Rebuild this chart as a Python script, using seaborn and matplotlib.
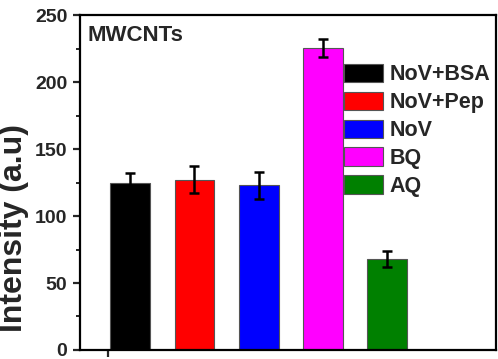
import matplotlib
matplotlib.use("Agg")
import matplotlib.pyplot as plt
import seaborn as sns
import pandas as pd
import numpy as np

samples = ["NoV+BSA", "NoV+Pep", "NoV", "BQ", "AQ"]
intensity = [124.5, 127.0, 123.0, 225.5, 68.0]
error = [7.5, 10.0, 10.0, 6.5, 6.0]
colors = ["#000000", "#ff0000", "#0000ff", "#ff00ff", "#008000"]
yticks = [0, 50, 100, 150, 200, 250]

sns.set_theme(style="white")
plt.rcParams["font.family"] = ["Liberation Sans", "DejaVu Sans"]
plt.rcParams["font.weight"] = "bold"

df = pd.DataFrame({"sample": samples, "intensity": intensity})

fig = plt.figure(figsize=(4.98, 3.59), dpi=100)
ax = fig.add_axes([0.1606, 0.0251, 0.9960 - 0.1606, 0.958 - 0.0251])

sns.barplot(data=df, x="sample", y="intensity", hue="sample",
            palette=colors, order=samples, hue_order=samples,
            width=0.62, errorbar=None, edgecolor="#555555", linewidth=0.8,
            saturation=1, dodge=False, legend=True, ax=ax)

ax.errorbar(np.arange(len(samples)), intensity, yerr=error, fmt="none",
            ecolor="black", elinewidth=1.8, capsize=3.5, capthick=1.8, zorder=5)

ax.set_xlim(-0.78, 5.69)
ax.set_ylim(0, 250)
ax.set_yticks(yticks)
ax.set_yticklabels([str(v) for v in yticks], fontsize=14, fontweight="bold")
ax.set_yticks(np.arange(25, 250, 50), minor=True)
ax.set_xticks([-0.34])
ax.set_xticklabels([""])
ax.set_xlabel("")
ax.set_ylabel("Intensity (a.u)", fontsize=23, fontweight="bold")
ax.yaxis.set_label_coords(-0.122, 0.365)

for s in ax.spines.values():
    s.set_visible(True)
    s.set_linewidth(1.6)
    s.set_color("black")

ax.tick_params(axis="y", which="major", direction="out", length=5, width=1.6,
               pad=4, left=True)
ax.tick_params(axis="y", which="minor", direction="out", length=3, width=1.4, left=True)
ax.tick_params(axis="x", which="major", direction="out", length=5, width=1.6, bottom=True)

ax.text(0.019, 0.97, "MWCNTs", transform=ax.transAxes, fontsize=16,
        fontweight="bold", va="top", ha="left")

leg = ax.legend(loc="upper left", bbox_to_anchor=(0.635, 0.855), frameon=False,
                fontsize=15.5, handlelength=1.8, handleheight=0.92,
                handletextpad=0.32, labelspacing=0.3, borderaxespad=0,
                borderpad=0)
for t in leg.get_texts():
    t.set_fontweight("bold")

fig.savefig("out.png", dpi=100)
